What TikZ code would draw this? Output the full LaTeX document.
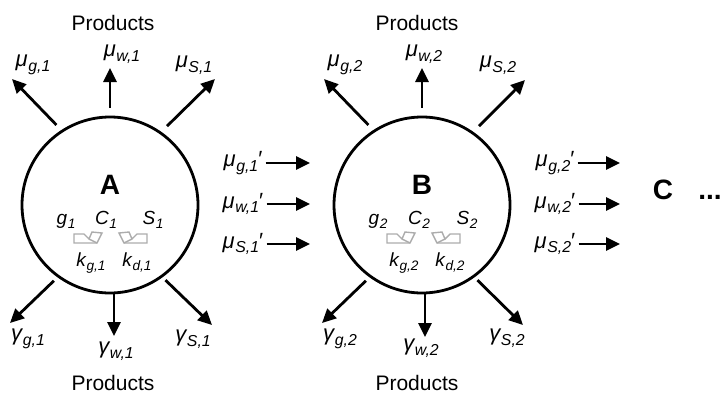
\documentclass[tikz,border=0pt]{standalone}
\usepackage{fontspec}
\setmainfont{Liberation Sans}
\usetikzlibrary{arrows.meta}

\newcommand{\flx}[2]{\textit{#1\kern0.03em\raisebox{-0.22em}{\scalebox{0.72}{#2}}}}

\tikzset{
    flow/.style={-{Triangle[length=14pt, width=13pt]}, line width=2.8pt},
    cell/.style={draw, circle, line width=2.8pt, minimum size=176pt, inner sep=0pt},
    rate/.style={font=\fontsize{22}{26}\selectfont, inner sep=0pt},
    inner/.style={font=\fontsize{19}{23}\selectfont, inner sep=0pt},
    prod/.style={font=\fontsize{21}{25}\selectfont, inner sep=0pt},
    big/.style={font=\fontsize{28}{32}\selectfont\bfseries, inner sep=0pt},
    pics/turnover/.style={code={
        \draw[draw=gray!65, line width=1.4pt, line join=miter]
            (-14,-4) -- (-4,-4) -- (1,1) -- (4,-6) -- (14,-5) -- (9,5) -- (-14,5) -- cycle;
        \draw[draw=gray!65, line width=1.4pt] (1,1) -- (9,5);
    }},
}

\begin{document}
\begin{tikzpicture}[x=1pt, y=-1pt]
    \useasboundingbox (0, 0) rectangle (725, 394);

    % cell A
    \node[cell] at (110, 205) (A) {};
    \node[big] at (110, 185) (nA) {A};
    \node[inner, anchor=base] at (66, 224) (g1) {\flx{g}{1}};
    \node[inner, anchor=base] at (106, 224) (C1) {\flx{C}{1}};
    \node[inner, anchor=base] at (153, 224) (S1) {\flx{S}{1}};
    \node[inner, anchor=base] at (91, 266) (kg1) {\flx{k}{g,1}};
    \node[inner, anchor=base] at (137, 266) (kd1) {\flx{k}{d,1}};
    \pic at (88, 238) {turnover};
    \pic[xscale=-1] at (133, 238) {turnover};

    \node[prod] at (113, 23) (pA) {Products};
    \node[rate] at (33, 65) (mgA) {\flx{μ}{g,1}};
    \node[rate] at (122, 54) (mwA) {\flx{μ}{w,1}};
    \node[rate] at (194, 65) (msA) {\flx{μ}{S,1}};
    \node[rate] at (28, 339) (ygA) {\flx{γ}{g,1}};
    \node[rate] at (116, 351) (ywA) {\flx{γ}{w,1}};
    \node[rate] at (193, 339) (ysA) {\flx{γ}{S,1}};
    \node[prod] at (113, 383) (qA) {Products};

    \coordinate (tgA) at (12, 79);
    \coordinate (twA) at (110, 68);
    \coordinate (tsA) at (215, 79);
    \coordinate (bgA) at (10, 323);
    \coordinate (bwA) at (114, 336);
    \coordinate (bsA) at (212, 325);
    \draw[flow, shorten <=7pt] (A.123) -- (tgA);
    \draw[flow, shorten <=8pt] (A.90) -- (twA);
    \draw[flow, shorten <=8pt] (A.55) -- (tsA);
    \draw[flow, shorten <=5pt] (A.234) -- (bgA);
    \draw[flow] (A.south -| bwA) -- (bwA);
    \draw[flow, shorten <=4pt] (A.-54) -- (bsA);

    % A to B
    \node[rate] at (243, 163) (mg1) {\flx{μ}{g,1}′};
    \node[rate] at (243, 204) (mw1) {\flx{μ}{w,1}′};
    \node[rate] at (243, 244) (ms1) {\flx{μ}{S,1}′};
    \coordinate (eg1) at (310, 163);
    \coordinate (ew1) at (310, 204);
    \coordinate (es1) at (310, 244);
    \draw[flow, shorten <=3pt] (mg1) -- (eg1);
    \draw[flow, shorten <=3pt] (mw1) -- (ew1);
    \draw[flow, shorten <=3pt] (ms1) -- (es1);

    % cell B
    \node[cell] at (422, 205) (B) {};
    \node[big] at (422, 185) (nB) {B};
    \node[inner, anchor=base] at (378, 224) (g2) {\flx{g}{2}};
    \node[inner, anchor=base] at (419, 224) (C2) {\flx{C}{2}};
    \node[inner, anchor=base] at (467, 224) (S2) {\flx{S}{2}};
    \node[inner, anchor=base] at (404, 266) (kg2) {\flx{k}{g,2}};
    \node[inner, anchor=base] at (450, 266) (kd2) {\flx{k}{d,2}};
    \pic at (401, 238) {turnover};
    \pic[xscale=-1] at (446, 238) {turnover};

    \node[prod] at (417, 23) (pB) {Products};
    \node[rate] at (345, 65) (mgB) {\flx{μ}{g,2}};
    \node[rate] at (424, 54) (mwB) {\flx{μ}{w,2}};
    \node[rate] at (498, 65) (msB) {\flx{μ}{S,2}};
    \node[rate] at (340, 339) (ygB) {\flx{γ}{g,2}};
    \node[rate] at (421, 348) (ywB) {\flx{γ}{w,2}};
    \node[rate] at (507, 338) (ysB) {\flx{γ}{S,2}};
    \node[prod] at (417, 383) (qB) {Products};

    \coordinate (tgB) at (324, 79);
    \coordinate (twB) at (422, 68);
    \coordinate (tsB) at (525, 80);
    \coordinate (bgB) at (322, 323);
    \coordinate (bwB) at (425, 337);
    \coordinate (bsB) at (523, 325);
    \draw[flow, shorten <=7pt] (B.123) -- (tgB);
    \draw[flow, shorten <=8pt] (B.90) -- (twB);
    \draw[flow, shorten <=8pt] (B.55) -- (tsB);
    \draw[flow, shorten <=5pt] (B.234) -- (bgB);
    \draw[flow] (B.south -| bwB) -- (bwB);
    \draw[flow, shorten <=4pt] (B.-54) -- (bsB);

    % B to C
    \node[rate] at (555, 163) (mg2) {\flx{μ}{g,2}′};
    \node[rate] at (555, 204) (mw2) {\flx{μ}{w,2}′};
    \node[rate] at (555, 244) (ms2) {\flx{μ}{S,2}′};
    \coordinate (eg2) at (620, 163);
    \coordinate (ew2) at (620, 204);
    \coordinate (es2) at (620, 244);
    \draw[flow, shorten <=3pt] (mg2) -- (eg2);
    \draw[flow, shorten <=3pt] (mw2) -- (ew2);
    \draw[flow, shorten <=3pt] (ms2) -- (es2);

    \node[big] at (663, 190) (C) {C};
    \node[big, anchor=base] at (710,0 |- C.base) (more) {...};
\end{tikzpicture}
\end{document}
